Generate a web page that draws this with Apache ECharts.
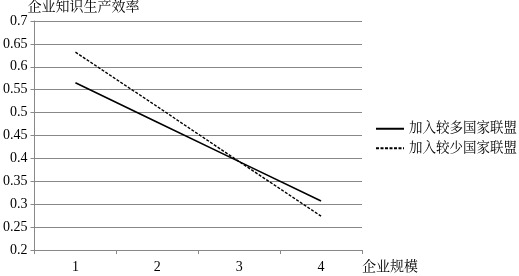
<!DOCTYPE html>
<html><head><meta charset="utf-8">
<script src="https://cdn.jsdelivr.net/npm/echarts@6/dist/echarts.min.js"></script>
<style>html,body{margin:0;padding:0;background:#fff}#c{width:519px;height:276px}</style>
</head><body><div id="c"></div>
<script>
const categories = ['1', '2', '3', '4'];
const seriesNames = ['加入较多国家联盟', '加入较少国家联盟'];
const moreAlliance = [0.565, 0.479, 0.393, 0.307];
const fewerAlliance = [0.632, 0.513, 0.393, 0.274];
const yAxisTitle = '企业知识生产效率';
const xAxisTitle = '企业规模';

const FONT = "'Liberation Serif', 'Noto Serif CJK SC', 'Noto Sans CJK SC', serif";
const chart = echarts.init(document.getElementById('c'));
chart.setOption({
  animation: false,
  textStyle: { fontFamily: FONT },
  grid: { left: 31, top: 21, right: 157, bottom: 26, containLabel: false },
  legend: {
    orient: 'vertical', left: 375, top: 122, padding: 0, itemWidth: 28, itemHeight: 10, itemGap: 6,
    itemStyle: { opacity: 0 },
    textStyle: { fontFamily: FONT, fontSize: 13.5, color: '#000', padding: [0, 0, 0, 0] },
    data: seriesNames
  },
  xAxis: {
    type: 'category', data: categories, boundaryGap: true,
    name: xAxisTitle, nameLocation: 'end', nameGap: 0,
    nameTextStyle: { fontFamily: FONT, fontSize: 14, color: '#000', verticalAlign: 'top', padding: [10, 0, 0, 0] },
    axisLine: { lineStyle: { color: '#888', width: 1 } },
    axisTick: { show: true, length: 4, lineStyle: { color: '#888' } },
    axisLabel: { color: '#000', fontSize: 14, margin: 10, fontFamily: FONT }
  },
  yAxis: {
    type: 'value', min: 0.2, max: 0.7, interval: 0.05,
    name: yAxisTitle, nameLocation: 'end', nameGap: 4,
    nameTextStyle: { fontFamily: FONT, fontSize: 14, color: '#000', align: 'left', padding: [0, 0, 0, -7] },
    axisLine: { show: true, lineStyle: { color: '#888', width: 1 } },
    axisTick: { show: true, length: 4, lineStyle: { color: '#888' } },
    axisLabel: { color: '#000', fontSize: 14, margin: 7, fontFamily: FONT },
    splitLine: { show: true, lineStyle: { color: '#888', width: 1 } }
  },
  series: [
    { name: seriesNames[0], type: 'line', data: moreAlliance, symbol: 'none',
      lineStyle: { color: '#000', width: 1.6, type: 'solid' }, itemStyle: { color: '#000' } },
    { name: seriesNames[1], type: 'line', data: fewerAlliance, symbol: 'none',
      lineStyle: { color: '#000', width: 1.4, type: [3, 1.5] }, itemStyle: { color: '#000' } }
  ]
});
</script></body></html>
